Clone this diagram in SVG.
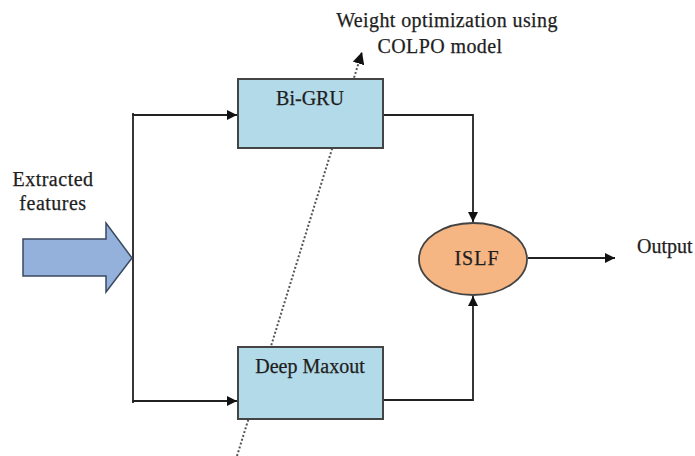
<svg xmlns="http://www.w3.org/2000/svg" width="695" height="456" viewBox="0 0 695 456">
<defs>
<marker id="ah" viewBox="0 0 10 10" refX="10" refY="5" markerWidth="10" markerHeight="10" markerUnits="userSpaceOnUse" orient="auto">
<path d="M0,0 L10,5 L0,10 z" fill="#111"/>
</marker>
<marker id="ah2" viewBox="0 0 10 10" refX="10" refY="5" markerWidth="12" markerHeight="12" markerUnits="userSpaceOnUse" orient="auto">
<path d="M0,0 L10,5 L0,10 z" fill="#111"/>
</marker>
</defs>
<style>
.t{font-family:"Liberation Serif","Times New Roman",serif;font-size:20px;fill:#1e1e1e;stroke:#1e1e1e;stroke-width:0.25}
.box{fill:#b3dae8;stroke:#444;stroke-width:2}
.ln{fill:none;stroke:#222;stroke-width:1.8}
</style>
<rect width="695" height="456" fill="#fff"/>
<g id="connectors">
<line x1="237" y1="456" x2="362" y2="52" stroke="#555" stroke-width="2" stroke-dasharray="2,2" marker-end="url(#ah2)"/>
<polyline class="ln" points="133,113 133,403"/>
<polyline class="ln" points="132,115 237,115" marker-end="url(#ah)"/>
<polyline class="ln" points="132,401 237,401" marker-end="url(#ah)"/>
<polyline class="ln" points="383,115 473,115 473,222" marker-end="url(#ah)"/>
<polyline class="ln" points="383,400 473,400 473,296" marker-end="url(#ah)"/>
<polyline class="ln" points="528,258 615,258" marker-end="url(#ah)"/>
</g>
<g id="input">
<path d="M23,239 L106,239 L106,223 L132,258 L106,292 L106,276 L23,276 Z" fill="#93b1da" stroke="#3a4a60" stroke-width="1.5"/>
<text class="t" x="53" y="186" text-anchor="middle" letter-spacing="0.5">Extracted</text>
<text class="t" x="53" y="210" text-anchor="middle" letter-spacing="0.5">features</text>
</g>
<g id="bigru">
<rect class="box" x="238" y="79" width="145" height="69"/>
<text class="t" x="310" y="105" text-anchor="middle">Bi-GRU</text>
</g>
<g id="maxout">
<rect class="box" x="238" y="347" width="145" height="72"/>
<text class="t" x="310" y="373" text-anchor="middle">Deep Maxout</text>
</g>
<g id="islf">
<ellipse cx="473" cy="259" rx="54" ry="36" fill="#f5b684" stroke="#444" stroke-width="1.8"/>
<text class="t" x="477" y="265" text-anchor="middle" letter-spacing="1">ISLF</text>
</g>
<g id="output">
<text class="t" x="637" y="253">Output</text>
</g>
<g id="note">
<text class="t" x="447" y="27" text-anchor="middle" letter-spacing="0.4">Weight optimization using</text>
<text class="t" x="440" y="53" text-anchor="middle" letter-spacing="0.4">COLPO model</text>
</g>
</svg>
